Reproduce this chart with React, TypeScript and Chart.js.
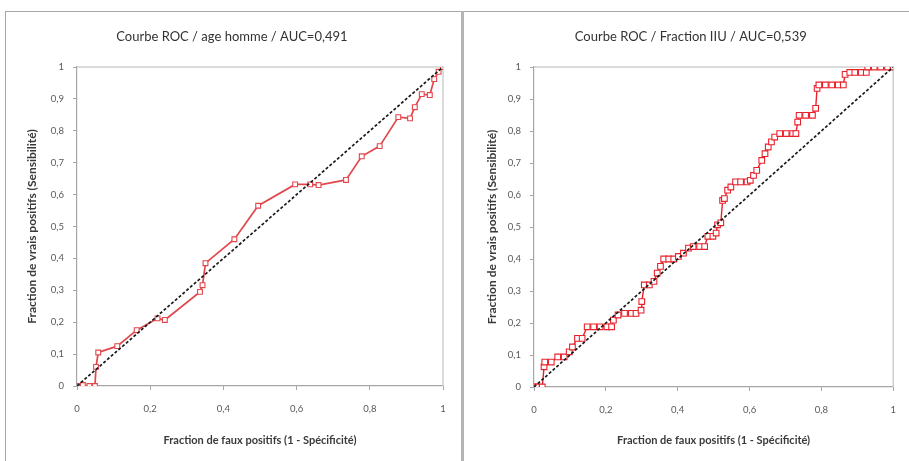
import React, { useEffect, useRef } from 'react';
import { Chart, registerables } from 'chart.js';

Chart.register(...registerables);

const xTickLabels = ['0', '0,2', '0,4', '0,6', '0,8', '1'];
const yTickLabels = ['0', '0,1', '0,2', '0,3', '0,4', '0,5', '0,6', '0,7', '0,8', '0,9', '1'];

const titleAge = 'Courbe ROC / age homme / AUC=0,491';
const titleIiu = 'Courbe ROC / Fraction IIU / AUC=0,539';
const xAxisTitle = 'Fraction de faux positifs (1 - Spécificité)';
const yAxisTitle = 'Fraction de vrais positifs (Sensibilité)';

const diagX = [0, 1];
const diagY = [0, 1];

const ageFpr = [0, 0.016, 0.034, 0.049, 0.052, 0.058, 0.11, 0.163, 0.22, 0.24, 0.336, 0.343, 0.351, 0.43, 0.495, 0.596, 0.637, 0.66, 0.735, 0.778, 0.827, 0.878, 0.91, 0.923, 0.942, 0.964, 0.976, 0.988, 1];
const ageTpr = [0, 0.003, 0, 0, 0.06, 0.105, 0.125, 0.175, 0.212, 0.207, 0.295, 0.316, 0.385, 0.46, 0.565, 0.632, 0.632, 0.63, 0.646, 0.72, 0.752, 0.843, 0.839, 0.874, 0.915, 0.912, 0.962, 0.985, 1];

const iiuFpr = [0, 0.007, 0.023, 0.028, 0.03, 0.048, 0.066, 0.084, 0.098, 0.107, 0.121, 0.134, 0.148, 0.166, 0.184, 0.203, 0.216, 0.221, 0.234, 0.252, 0.271, 0.284, 0.298, 0.3, 0.307, 0.321, 0.334, 0.343, 0.352, 0.361, 0.375, 0.389, 0.402, 0.416, 0.43, 0.443, 0.461, 0.475, 0.484, 0.498, 0.507, 0.511, 0.52, 0.525, 0.53, 0.539, 0.548, 0.561, 0.575, 0.593, 0.602, 0.611, 0.62, 0.634, 0.643, 0.652, 0.661, 0.67, 0.684, 0.702, 0.72, 0.729, 0.734, 0.738, 0.756, 0.775, 0.784, 0.788, 0.793, 0.811, 0.829, 0.847, 0.861, 0.866, 0.879, 0.893, 0.911, 0.925, 0.929, 0.947, 0.965, 0.984, 1];
const iiuTpr = [0, 0, 0, 0.063, 0.078, 0.078, 0.094, 0.094, 0.11, 0.125, 0.152, 0.152, 0.188, 0.188, 0.188, 0.188, 0.188, 0.209, 0.225, 0.23, 0.23, 0.23, 0.24, 0.267, 0.319, 0.319, 0.33, 0.356, 0.377, 0.4, 0.4, 0.4, 0.408, 0.418, 0.434, 0.439, 0.439, 0.439, 0.471, 0.471, 0.481, 0.507, 0.513, 0.583, 0.589, 0.615, 0.625, 0.641, 0.641, 0.641, 0.646, 0.661, 0.677, 0.708, 0.729, 0.75, 0.766, 0.781, 0.792, 0.792, 0.792, 0.792, 0.828, 0.849, 0.849, 0.849, 0.871, 0.933, 0.944, 0.944, 0.944, 0.944, 0.944, 0.977, 0.983, 0.983, 0.983, 0.983, 1, 1, 1, 1, 1];

const FONT = 'Lato, "Open Sans", "Liberation Sans", sans-serif';

const framePlugin = {
  id: 'plotFrame',
  beforeDatasetsDraw(chart: any) {
    const { ctx, chartArea: a } = chart;
    ctx.save();
    ctx.strokeStyle = '#cfcfcf';
    ctx.lineWidth = 1.5;
    ctx.beginPath();
    ctx.moveTo(a.left, a.top);
    ctx.lineTo(a.right, a.top);
    ctx.lineTo(a.right, a.bottom);
    ctx.stroke();
    ctx.restore();
  },
};

type RocProps = {
  title: string;
  fpr: number[];
  tpr: number[];
  color: string;
  radius: number;
  lineWidth: number;
  left: number;
  width: number;
  padL: number;
  padR: number;
  padB: number;
  yW: number;
  xH: number;
};

function RocChart(p: RocProps) {
  const ref = useRef<HTMLCanvasElement | null>(null);
  useEffect(() => {
    if (!ref.current) return;
    const curve = p.fpr.map((x, i) => ({ x, y: p.tpr[i] }));
    const diag = diagX.map((x, i) => ({ x, y: diagY[i] }));
    const chart = new Chart(ref.current, {
      type: 'scatter',
      data: {
        datasets: [
          {
            data: diag,
            showLine: true,
            borderColor: '#1a1a1a',
            borderWidth: 1.7,
            borderDash: [3, 2],
            pointRadius: 0,
            fill: false,
          },
          {
            data: curve,
            showLine: true,
            borderColor: p.color,
            borderWidth: p.lineWidth,
            pointStyle: 'rect',
            pointRadius: p.radius,
            pointBorderWidth: 1.1,
            pointBorderColor: p.color,
            pointBackgroundColor: '#ffffff',
            tension: 0,
            fill: false,
          },
        ],
      },
      options: {
        responsive: false,
        animation: false,
        events: [],
        layout: { padding: { left: p.padL, right: p.padR, top: 0, bottom: p.padB } },
        plugins: {
          legend: { display: false },
          tooltip: { enabled: false },
          title: {
            display: true,
            text: p.title,
            color: '#333333',
            font: { family: FONT, size: 13, weight: 'normal' },
            padding: { top: 29.2, bottom: 22.2 },
          },
        },
        scales: {
          x: {
            type: 'linear',
            min: 0,
            max: 1,
            afterFit: (s: any) => {
              s.height = p.xH;
            },
            ticks: {
              stepSize: 0.2,
              callback: (_v: any, i: number) => xTickLabels[i],
              color: '#595959',
              font: { family: FONT, size: 9.5 },
              padding: 13,
              maxRotation: 0,
            },
            grid: { drawOnChartArea: false, tickLength: 4, color: '#a6a6a6' },
            border: { color: '#a6a6a6', width: 1.2 },
            title: {
              display: true,
              text: xAxisTitle,
              color: '#3a3a3a',
              font: { family: FONT, size: 11, weight: 'bold' },
            },
          },
          y: {
            type: 'linear',
            min: 0,
            max: 1,
            afterFit: (s: any) => {
              s.width = p.yW;
            },
            ticks: {
              stepSize: 0.1,
              callback: (_v: any, i: number) => yTickLabels[i],
              color: '#595959',
              font: { family: FONT, size: 9.5 },
              padding: 9,
            },
            grid: { drawOnChartArea: false, tickLength: 4, color: '#a6a6a6' },
            border: { color: '#a6a6a6', width: 1.2 },
            title: {
              display: true,
              text: yAxisTitle,
              color: '#3a3a3a',
              font: { family: FONT, size: 12, weight: 'bold' },
            },
          },
        },
      },
      plugins: [framePlugin],
    } as any);
    return () => chart.destroy();
  }, []);
  return (
    <canvas
      ref={ref}
      width={p.width}
      height={461}
      style={{ position: 'absolute', left: p.left, top: 0, width: p.width, height: 461 }}
    />
  );
}

export default function App() {
  return (
    <div style={{ position: 'absolute', left: 0, top: 0, width: 909, height: 461, background: '#ffffff', overflow: 'hidden' }}>
      <div style={{ position: 'absolute', left: 5, top: 11, width: 904, height: 1, background: '#a8a8a8' }} />
      <div style={{ position: 'absolute', left: 5, top: 11, width: 1, height: 450, background: '#a8a8a8' }} />
      <div style={{ position: 'absolute', left: 461, top: 11, width: 3, height: 450, background: '#b4b4b4' }} />
      <RocChart
        title={titleAge}
        fpr={ageFpr}
        tpr={ageTpr}
        color="#e2474c"
        radius={3.4}
        lineWidth={1.7}
        left={0}
        width={460}
        padL={20.8}
        padR={17}
        padB={10.4}
        yW={56.2}
        xH={64.6}
      />
      <RocChart
        title={titleIiu}
        fpr={iiuFpr}
        tpr={iiuTpr}
        color="#e8222b"
        radius={4}
        lineWidth={1.4}
        left={463}
        width={446}
        padL={17.5}
        padR={8}
        padB={10.4}
        yW={53.5}
        xH={63.6}
      />
    </div>
  );
}
